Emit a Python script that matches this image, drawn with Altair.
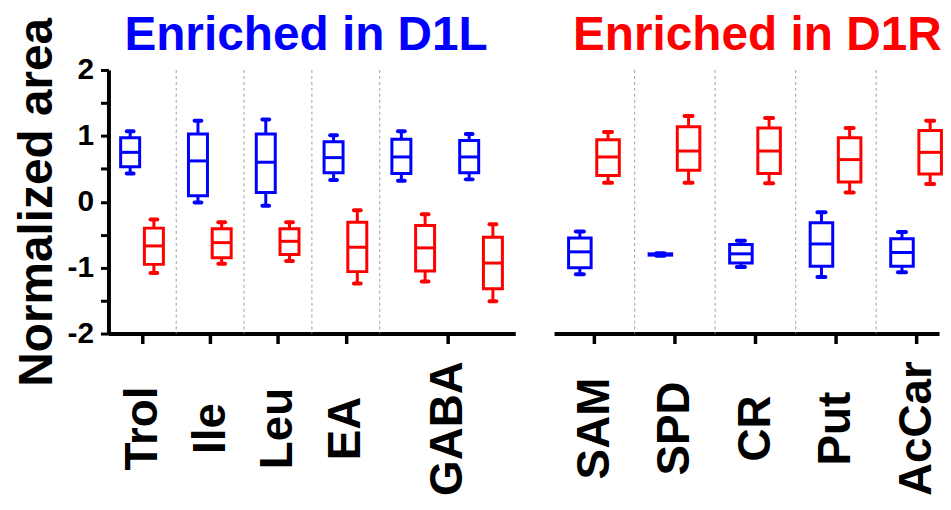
import altair as alt
import pandas as pd

FONT = "Liberation Sans"
BLUE = "#0000ff"
RED = "#ff0000"

panel_titles = ["Enriched in D1L", "Enriched in D1R"]
conditions = ["D1L", "D1R"]

# ---- left panel (enriched in D1L) ----
left_groups = ["Trol", "Ile", "Leu", "EA", "GABA"]
left_group_slots = [[0], [1], [2], [3], [4, 5]]
# each slot: [low whisker, Q1, median, Q3, high whisker]
left_d1l = [
    [0.43, 0.53, 0.75, 0.97, 1.07],
    [-0.01, 0.09, 0.62, 1.03, 1.23],
    [-0.06, 0.14, 0.60, 1.03, 1.25],
    [0.33, 0.44, 0.67, 0.91, 1.01],
    [0.32, 0.43, 0.68, 0.95, 1.07],
    [0.34, 0.44, 0.68, 0.93, 1.03],
]
left_d1r = [
    [-1.08, -0.95, -0.67, -0.40, -0.27],
    [-0.94, -0.85, -0.62, -0.41, -0.31],
    [-0.90, -0.80, -0.60, -0.41, -0.31],
    [-1.24, -1.06, -0.69, -0.31, -0.13],
    [-1.21, -1.05, -0.70, -0.36, -0.19],
    [-1.51, -1.32, -0.93, -0.54, -0.34],
]

# ---- right panel (enriched in D1R) ----
right_groups = ["SAM", "SPD", "CR", "Put", "AcCar"]
right_group_slots = [[0], [1], [2], [3], [4]]
right_d1l = [
    [-1.10, -1.00, -0.76, -0.55, -0.45],
    [-0.82, -0.81, -0.80, -0.79, -0.78],
    [-0.99, -0.93, -0.79, -0.65, -0.59],
    [-1.14, -0.98, -0.64, -0.32, -0.16],
    [-1.07, -0.98, -0.77, -0.56, -0.46],
]
right_d1r = [
    [0.29, 0.40, 0.68, 0.94, 1.06],
    [0.29, 0.48, 0.77, 1.14, 1.30],
    [0.28, 0.43, 0.77, 1.12, 1.27],
    [0.14, 0.30, 0.64, 0.97, 1.12],
    [0.27, 0.42, 0.75, 1.08, 1.23],
]

OFFSETS = {"D1L": -0.18, "D1R": 0.17}
HALF_BOX = 0.14
HALF_CAP = 0.05


def build_df(d1l, d1r):
    rows = []
    for cond, stats in (("D1L", d1l), ("D1R", d1r)):
        for slot, (lo, q1, med, q3, hi) in enumerate(stats):
            pos = slot + OFFSETS[cond]
            rows.append(dict(cond=cond, pos=pos,
                             left=pos - HALF_BOX, right=pos + HALF_BOX,
                             capl=pos - HALF_CAP, capr=pos + HALF_CAP,
                             lo=lo, q1=q1, med=med, q3=q3, hi=hi))
    return pd.DataFrame(rows)


def panel(title, title_color, groups, group_slots, d1l, d1r, width, x_max,
          title_dx, show_y):
    df = build_df(d1l, d1r)
    tick_pos = [sum(s) / len(s) for s in group_slots]
    seps = pd.DataFrame({"b": [s[0] - 0.5 for s in group_slots[1:]]})
    label_expr = " : ".join(
        f"abs(datum.value - ({p})) < 0.01 ? '{n}'" for p, n in zip(tick_pos, groups)
    ) + " : ''"

    xscale = alt.Scale(domain=[-0.5, x_max], nice=False, zero=False)
    yscale = alt.Scale(domain=[-2, 2], nice=False, zero=False)
    xaxis = alt.Axis(values=tick_pos, labelExpr=label_expr, title=None,
                     labelAngle=270, labelAlign="center", labelBaseline="middle",
                     labelPadding=85, labelFontSize=46, labelFontWeight="bold",
                     labelFont=FONT, labelColor="black", labelOverlap=False,
                     tickSize=10, tickWidth=3.5, tickColor="black",
                     domainWidth=4, domainColor="black", grid=False)
    if show_y:
        yaxis = alt.Axis(values=[-2, -1.5, -1, -0.5, 0, 0.5, 1, 1.5, 2],
                         labelExpr="datum.value % 1 == 0 ? (datum.value < 0 ? '-' + abs(datum.value) : '' + datum.value) : ''",
                         title="Normalized area", titleFontSize=48,
                         titleFontWeight="bold", titleFont=FONT, titleColor="black",
                         titlePadding=6,
                         labelFontSize=30, labelFontWeight="bold", labelFont=FONT,
                         labelColor="black", labelPadding=7,
                         tickSize=8, tickWidth=3, tickColor="black",
                         domainWidth=4, domainColor="black", grid=False)
    else:
        yaxis = None

    color = alt.Color("cond:N", scale=alt.Scale(domain=conditions, range=[BLUE, RED]),
                      legend=None)
    stroke = alt.Stroke("cond:N", scale=alt.Scale(domain=conditions, range=[BLUE, RED]),
                        legend=None)

    sep = alt.Chart(seps).mark_rule(color="#b0b0b0", strokeDash=[3, 3],
                                    strokeWidth=1.2).encode(
        x=alt.X("b:Q", scale=xscale, axis=xaxis))
    base = alt.Chart(df)
    wlo = base.mark_rule(strokeWidth=3).encode(
        x=alt.X("pos:Q", scale=xscale, axis=xaxis),
        y=alt.Y("lo:Q", scale=yscale, axis=yaxis), y2="q1:Q", color=color)
    whi = base.mark_rule(strokeWidth=3).encode(
        x=alt.X("pos:Q", scale=xscale, axis=xaxis),
        y=alt.Y("q3:Q", scale=yscale, axis=yaxis), y2="hi:Q", color=color)
    clo = base.mark_rule(strokeWidth=4, strokeCap="round").encode(
        x=alt.X("capl:Q", scale=xscale, axis=xaxis), x2="capr:Q",
        y=alt.Y("lo:Q", scale=yscale, axis=yaxis), color=color)
    chi = base.mark_rule(strokeWidth=4, strokeCap="round").encode(
        x=alt.X("capl:Q", scale=xscale, axis=xaxis), x2="capr:Q",
        y=alt.Y("hi:Q", scale=yscale, axis=yaxis), color=color)
    box = base.mark_rect(fillOpacity=0, strokeWidth=3).encode(
        x=alt.X("left:Q", scale=xscale, axis=xaxis), x2="right:Q",
        y=alt.Y("q1:Q", scale=yscale, axis=yaxis), y2="q3:Q", stroke=stroke)
    med = base.mark_rule(strokeWidth=3).encode(
        x=alt.X("left:Q", scale=xscale, axis=xaxis), x2="right:Q",
        y=alt.Y("med:Q", scale=yscale, axis=yaxis), color=color)
    ttl = alt.Chart(pd.DataFrame({"t": [title]})).mark_text(
        align="left", baseline="alphabetic", fontSize=48, fontWeight="bold",
        font=FONT, color=title_color).encode(
        text="t:N", x=alt.value(title_dx), y=alt.value(-20))

    return alt.layer(sep, wlo, whi, clo, chi, box, med, ttl).properties(
        width=width, height=265)


left = panel(panel_titles[0], BLUE, left_groups, left_group_slots, left_d1l, left_d1r,
             409, 5.5, 16, True)
right = panel(panel_titles[1], RED, right_groups, right_group_slots, right_d1l, right_d1r,
              387, 4.28, 19, False)

chart = alt.hconcat(left, right, spacing=39).properties(
    padding={"left": 5, "top": 3, "right": 0, "bottom": 0}
).configure(font=FONT).configure_view(stroke=None)

chart.save("out.html", embed_options={"renderer": "svg", "actions": False})
